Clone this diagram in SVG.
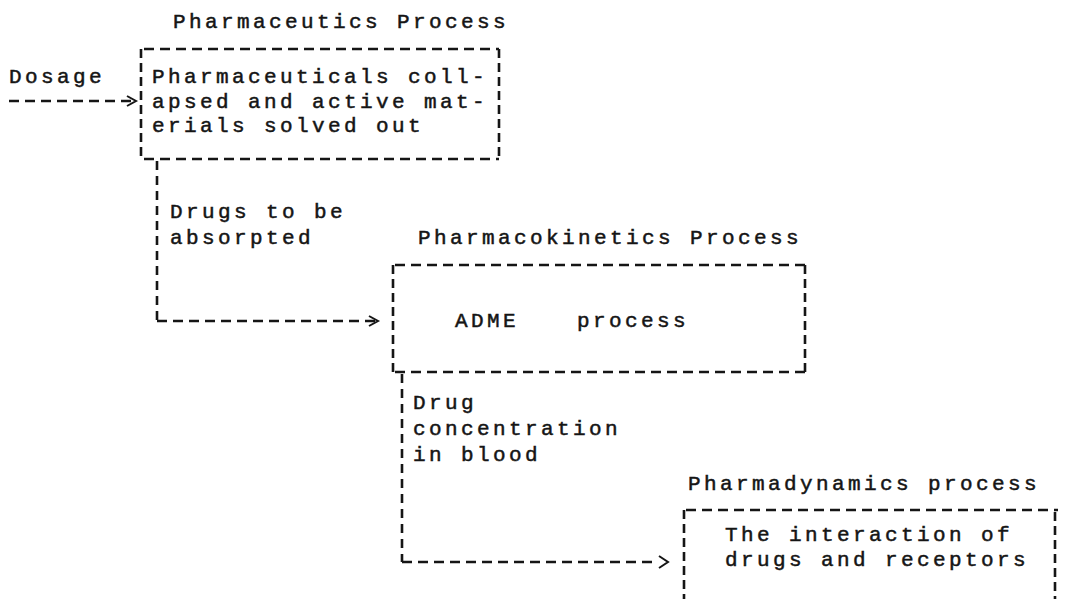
<svg xmlns="http://www.w3.org/2000/svg" width="1069" height="599" viewBox="0 0 1069 599">
<defs>
<style>
.t{font-family:"Liberation Mono","Courier New",monospace;font-size:21px;letter-spacing:3.4px;fill:#151515;stroke:#151515;stroke-width:0.5}
.h{stroke:#151515;stroke-width:2.4;stroke-dasharray:10 6}
.v{stroke:#151515;stroke-width:2.6;stroke-dasharray:9 5}
.c{stroke:#151515;stroke-width:2.4;stroke-dasharray:10 6;fill:none}
.cv{stroke:#151515;stroke-width:2.6;stroke-dasharray:9 6;fill:none}
</style>
<marker id="chev" markerWidth="14" markerHeight="14" refX="11" refY="7" orient="auto" markerUnits="userSpaceOnUse">
<path d="M2,2 L11,7 L2,12" fill="none" stroke="#151515" stroke-width="2"/>
</marker>
</defs>
<rect width="1069" height="599" fill="#ffffff"/>

<g id="pharmaceutics">
<text class="t" x="173" y="28">Pharmaceutics Process</text>
<line class="h" x1="144" y1="49" x2="499" y2="49"/>
<line class="h" x1="144" y1="159" x2="499" y2="159"/>
<line class="v" x1="141" y1="49" x2="141" y2="161"/>
<line class="v" x1="499" y1="49" x2="499" y2="161"/>
<text class="t" x="152" y="83">Pharmaceuticals coll-</text>
<text class="t" x="152" y="107.5">apsed and active mat-</text>
<text class="t" x="152" y="132">erials solved out</text>
</g>

<g id="dosage">
<text class="t" x="9" y="83">Dosage</text>
</g>

<g id="pharmacokinetics">
<text class="t" x="418" y="244">Pharmacokinetics Process</text>
<line class="h" x1="395" y1="265" x2="805" y2="265"/>
<line class="h" x1="395" y1="372" x2="805" y2="372"/>
<line class="v" x1="393" y1="265" x2="393" y2="374"/>
<line class="v" x1="805" y1="265" x2="805" y2="374"/>
<text class="t" x="455" y="327">ADME<tspan dx="58">process</tspan></text>
</g>

<g id="pharmadynamics">
<text class="t" x="688" y="490">Pharmadynamics<tspan dx="16">process</tspan></text>
<line class="h" x1="686" y1="510" x2="1058" y2="510"/>
<line class="v" x1="684" y1="510" x2="684" y2="599"/>
<line class="v" x1="1055" y1="512" x2="1055" y2="599"/>
<text class="t" x="725" y="541">The interaction of</text>
<text class="t" x="725" y="566">drugs and receptors</text>
</g>

<g id="connectors">
<path class="c" d="M9,101 H136" marker-end="url(#chev)"/>
<path class="cv" d="M157,161 V321"/>
<path class="c" d="M157,321 H378" marker-end="url(#chev)"/>
<path class="cv" d="M402,374 V562"/>
<path class="c" d="M402,562 H652"/>
<path d="M659,556 L668,562 L659,568" fill="none" stroke="#151515" stroke-width="2"/>
<text class="t" x="170" y="218">Drugs to be</text>
<text class="t" x="170" y="244">absorpted</text>
<text class="t" x="413" y="409">Drug</text>
<text class="t" x="413" y="435">concentration</text>
<text class="t" x="413" y="461">in blood</text>
</g>
</svg>
